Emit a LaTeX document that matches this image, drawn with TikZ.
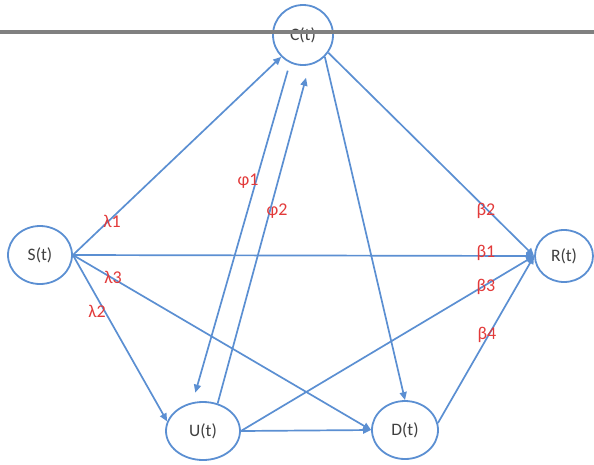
\documentclass[tikz,border=0pt]{standalone}
\usepackage{fontspec}
\setmainfont{Carlito}
\usetikzlibrary{arrows.meta,shapes.geometric}
\definecolor{flowblue}{RGB}{91,143,210}
\definecolor{ratered}{RGB}{226,58,58}
\definecolor{labelgray}{RGB}{64,64,64}
\definecolor{rulegray}{RGB}{128,128,128}
\tikzset{
  state/.style={ellipse, draw=flowblue, line width=1.8pt, fill=white,
    inner sep=0pt, text=labelgray, font=\fontsize{17.5}{19}\selectfont},
  flow/.style={draw=flowblue, line width=1.7pt,
    -{Triangle[length=8pt,width=7pt]}},
  rate/.style={text=ratered, inner sep=0pt, font=\fontsize{18}{20}\selectfont}
}
\begin{document}
\begin{tikzpicture}[x=1pt,y=-1pt]
\useasboundingbox (0,0) rectangle (594,464);

% compartments
\node[state, minimum width=60pt, minimum height=60pt] (C) at (303,35) {C(t)};
\node[state, minimum width=64pt, minimum height=58pt] (S) at (40,255) {S(t)};
\node[state, minimum width=58pt, minimum height=52pt] (R) at (564,256) {R(t)};
\node[state, minimum width=74pt, minimum height=58pt] (U) at (203,431) {U(t)};
\node[state, minimum width=66pt, minimum height=58pt] (D) at (405,430) {D(t)};

% transitions
\draw[flow] (S.east) -- (C.225);
\draw[flow] (S.east) -- (R.west);
\draw[flow] (S.east) -- (D.west);
\draw[flow] (S.east) -- (U.165);
\draw[flow, shorten <=8pt, shorten >=10pt] (C.245) -- (U.110);
\draw[flow, shorten >=13pt] (U.62) -- (C.282);
\draw[flow] (C.-35) -- (R.west);
\draw[flow] (C.-45) -- (D.north);
\draw[flow] (U.east) -- (R.west);
\draw[flow] (U.east) -- (D.west);
\draw[flow] (D.12) -- (R.west);

% rate labels
\node[rate] (l1) at (112,221) {λ1};
\node[rate] (l3) at (113,277) {λ3};
\node[rate] (l2) at (97,311) {λ2};
\node[rate] (p1) at (248,181) {φ1};
\node[rate] (p2) at (277,211) {φ2};
\node[rate] (b2) at (486,211) {β2};
\node[rate] (b1) at (486,253) {β1};
\node[rate] (b3) at (486,287) {β3};
\node[rate] (b4) at (487,335) {β4};

% header rule
\draw[rulegray, line width=3.3pt] (0,32) -- (594,32);
\end{tikzpicture}
\end{document}
